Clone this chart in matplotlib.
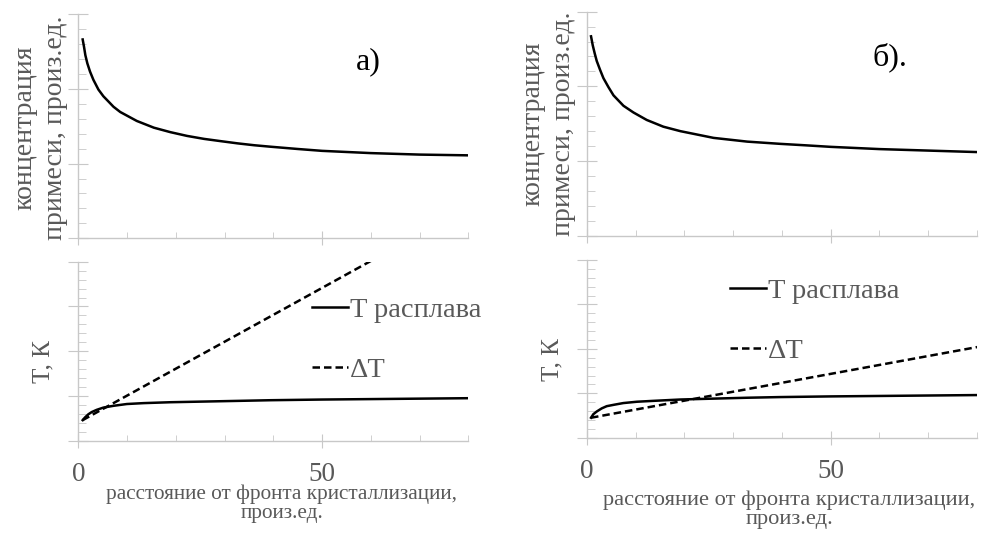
import numpy as np
import matplotlib
matplotlib.use('Agg')
import matplotlib.pyplot as plt
from matplotlib.ticker import MultipleLocator

plt.rcParams['font.family'] = ['Liberation Serif', 'DejaVu Serif']
grey_text = '#595959'
grey_axis = '#c8c8c8'

# концентрация примеси (верхние графики)
x_conc_a = [0.9, 1.18, 1.45, 1.86, 2.41, 3.1, 4.13, 5.15, 6.19, 7.22, 8.6, 10.3, 12.0, 15.5,
            18.9, 22.3, 25.8, 29.2, 32.7, 36.1, 39.5, 45, 50, 55, 60, 65, 70, 75, 80]
conc_a = [2.66, 2.56, 2.45, 2.34, 2.23, 2.12, 1.99, 1.90, 1.83, 1.76, 1.69, 1.63, 1.57, 1.48,
          1.42, 1.37, 1.33, 1.30, 1.27, 1.245, 1.225, 1.195, 1.17, 1.155, 1.14, 1.13, 1.12,
          1.115, 1.11]
x_conc_b = [0.88, 1.23, 1.64, 2.05, 2.74, 3.42, 4.45, 5.48, 7.53, 9.58, 12.3, 15.7, 19.2,
            26.0, 32.9, 39.7, 45, 50, 55, 60, 65, 70, 75, 80]
conc_b = [2.67, 2.55, 2.44, 2.34, 2.22, 2.11, 1.99, 1.88, 1.74, 1.65, 1.55, 1.46, 1.40,
          1.31, 1.26, 1.23, 1.21, 1.19, 1.175, 1.16, 1.15, 1.14, 1.13, 1.12]

# температура расплава и переохлаждение (нижние графики)
x_t_a = [0.9, 1.38, 2.06, 2.75, 3.78, 5.15, 7.22, 9.97, 13.4, 18.9, 25.8, 32.7, 39.5,
         50, 60, 70, 80]
t_melt_a = [0.46, 0.52, 0.59, 0.64, 0.69, 0.74, 0.78, 0.82, 0.84, 0.86, 0.875, 0.89, 0.905,
            0.92, 0.93, 0.94, 0.95]
x_dt_a = [0.9, 80]
dt_a = [0.46, 5.22]

x_t_b = [0.88, 1.36, 2.05, 3.07, 4.1, 5.5, 7.5, 10.3, 13.7, 19.2, 26.0, 32.9, 39.7,
         50, 60, 70, 80]
t_melt_b = [0.45, 0.53, 0.59, 0.66, 0.71, 0.74, 0.78, 0.81, 0.83, 0.86, 0.88, 0.90, 0.915,
            0.93, 0.94, 0.95, 0.96]
x_dt_b = [0.88, 80]
dt_b = [0.45, 2.04]

fig = plt.figure(figsize=(9.81, 5.34), dpi=100)

ax_ca = fig.add_axes([0.0798, 0.5537, 0.3976, 0.4200])
ax_ta = fig.add_axes([0.0798, 0.1747, 0.3976, 0.3352])
ax_cb = fig.add_axes([0.5981, 0.5586, 0.3979, 0.4195])
ax_tb = fig.add_axes([0.5981, 0.1803, 0.3979, 0.3328])


def style_axes(ax, ymax, xlabels):
    ax.set_xlim(0, 80)
    ax.set_ylim(0, ymax)
    for s in ['top', 'right']:
        ax.spines[s].set_visible(False)
    for s in ['left', 'bottom']:
        ax.spines[s].set_color(grey_axis)
        ax.spines[s].set_linewidth(1.0)
    ax.xaxis.set_major_locator(MultipleLocator(50))
    ax.xaxis.set_minor_locator(MultipleLocator(10))
    ax.yaxis.set_major_locator(MultipleLocator(1))
    ax.yaxis.set_minor_locator(MultipleLocator(0.2))
    ax.tick_params(axis='x', which='major', direction='inout', length=10, color=grey_axis,
                   labelsize=19.5, labelcolor=grey_text, pad=10, labelbottom=xlabels)
    ax.tick_params(axis='x', which='minor', direction='in', length=4, color=grey_axis)
    ax.tick_params(axis='y', which='major', direction='inout', length=14, color=grey_axis,
                   labelleft=False)
    ax.tick_params(axis='y', which='minor', direction='in', length=6, color=grey_axis)


for ax in (ax_ca, ax_cb):
    style_axes(ax, 3, False)
for ax in (ax_ta, ax_tb):
    style_axes(ax, 4, True)

ax_ca.plot(x_conc_a, conc_a, color='black', lw=1.8)
ax_cb.plot(x_conc_b, conc_b, color='black', lw=1.8)

ax_ta.plot(x_t_a, t_melt_a, color='black', lw=1.8, label='T расплава')
ax_ta.plot(x_dt_a, dt_a, color='black', lw=1.8, dashes=(3, 1.6), label='ΔT')
ax_tb.plot(x_t_b, t_melt_b, color='black', lw=1.8, label='T расплава')
ax_tb.plot(x_dt_b, dt_b, color='black', lw=1.8, dashes=(3, 1.6), label='ΔT')

leg_kw = dict(loc='upper left', frameon=False, fontsize=20.5, labelcolor=grey_text,
              handlelength=1.26, handletextpad=0.05, labelspacing=1.2,
              borderpad=0, borderaxespad=0)
ax_ta.legend(bbox_to_anchor=(0.60, 0.805), **leg_kw)
ax_tb.legend(bbox_to_anchor=(0.368, 0.90), **leg_kw)

# подписи осей
ylab_conc = 'концентрация\nпримеси, произ.ед.'
xlab = 'расстояние от фронта кристаллизации,\nпроиз.ед.'
fig.text(40 / 981, 1 - 128 / 534, ylab_conc, rotation=90, ha='center', va='center',
         fontsize=20, color=grey_text, linespacing=1.3, multialignment='center')
fig.text(548 / 981, 1 - 124 / 534, ylab_conc, rotation=90, ha='center', va='center',
         fontsize=20, color=grey_text, linespacing=1.3, multialignment='center')
fig.text(43 / 981, 1 - 362 / 534, 'T, К', rotation=90, ha='center', va='center',
         fontsize=18, color=grey_text)
fig.text(552 / 981, 1 - 360 / 534, 'T, К', rotation=90, ha='center', va='center',
         fontsize=18, color=grey_text)
fig.text(282 / 981, 1 - 504 / 534, xlab, ha='center', va='center', fontsize=15.3,
         color=grey_text, linespacing=1.0)
fig.text(789 / 981, 1 - 510 / 534, xlab, ha='center', va='center', fontsize=16.1,
         color=grey_text, linespacing=1.0)

fig.text(368 / 981, 1 - 62 / 534, 'а)', ha='center', va='center', fontsize=23, color='black')
fig.text(890 / 981, 1 - 57 / 534, 'б).', ha='center', va='center', fontsize=23, color='black')

fig.savefig('out.png', dpi=100)
